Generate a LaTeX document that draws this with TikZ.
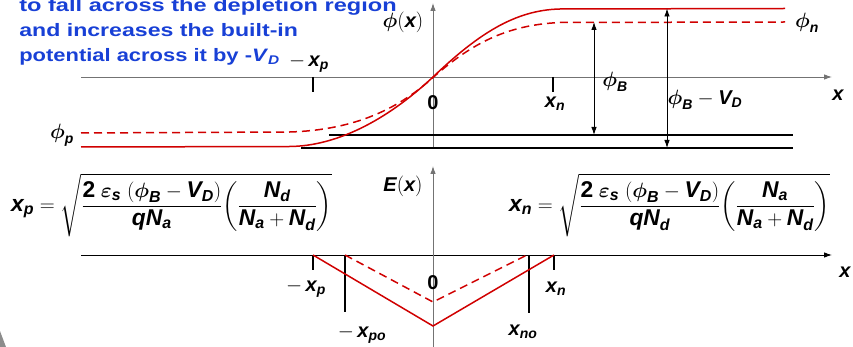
\documentclass[tikz,border=0pt]{standalone}
\usepackage{amsmath}
\usepackage{fontspec}
\setmainfont{Liberation Sans}
\usetikzlibrary{arrows.meta, calc, positioning}

\definecolor{curvered}{RGB}{208,0,0}
\definecolor{noteblue}{RGB}{24,64,214}
\newcommand{\mv}[1]{\text{\bfseries\itshape #1}}
\newcommand{\phib}{\boldsymbol{\phi}}

\begin{document}
\begin{tikzpicture}[x=1pt, y=-1pt, >={Latex[length=8pt,width=5.5pt]}]
    \def\stretch{1.31}
    \tikzstyle{axis} = [draw=black!55, line width=0.9pt, ->]
    \tikzstyle{curve} = [draw=curvered, line width=1.5pt]
    \tikzstyle{eqcurve} = [curve, dash pattern=on 8pt off 5pt]
    \tikzstyle{tick} = [draw, line width=1.2pt]
    \tikzstyle{span} = [draw, line width=0.9pt, <->]
    \tikzstyle{lbl} = [inner sep=0pt, font=\fontsize{20}{24}\selectfont]
    \tikzstyle{formula} = [inner sep=0pt, anchor=west, font=\fontsize{22.8}{27}\selectfont]

    \useasboundingbox (0,0) rectangle (853,347);

    % slide decoration
    \fill[black!45] (0,331) -- (6,347) -- (0,347) -- cycle;

    \node (note) [anchor=north west, inner sep=0pt, align=left, text=noteblue,
        xscale=\stretch, transform shape,
        font=\bfseries\fontsize{18}{25}\selectfont] at (25/\stretch,-1.5)
        {to fall across the depletion region\\\scalebox{0.98}[1]{and increases the built-in}\\\scalebox{0.93}[1]{potential across it by -\textit{V}\textsubscript{\textit{D}}}};

    % potential phi(x)
    \coordinate (phiL) at (81,77);
    \coordinate (phiR) at (832,77);
    \coordinate (phiB) at (433,148);
    \coordinate (phiT) at (433,3);
    \draw [axis] (phiL) -- (phiR);
    \draw [axis] (phiB) -- (phiT);

    \coordinate (xpTop) at (313,77);  \coordinate (xpBot) at (313,92);
    \coordinate (xnTop) at (553,77);  \coordinate (xnBot) at (553,92);
    \draw [tick] (xpTop) -- (xpBot);
    \draw [tick] (xnTop) -- (xnBot);

    \coordinate (lvB1) at (329,135);  \coordinate (lvB2) at (793,135);
    \coordinate (lvD1) at (301,148);  \coordinate (lvD2) at (793,148);
    \draw [line width=2pt] (lvB1) -- (lvB2);
    \draw [line width=1.1pt] (lvD1) -- (lvD2);

    \draw [curve] (81,147) -- (290,146.5) .. controls (335,146) and (385,122) .. (433,77)
        .. controls (478,34) and (515,10) .. (560,9) -- (785,8.5);
    \draw [eqcurve] (81,133) -- (290,132) .. controls (350,130) and (395,112) .. (433,77.5)
        .. controls (470,45) and (505,25) .. (560,22.5) -- (785,22);

    \coordinate (spBt) at (594,22);   \coordinate (spBb) at (594,135);
    \coordinate (spVt) at (667,8.5);  \coordinate (spVb) at (667,148);
    \draw [span] (spBt) -- (spBb);
    \draw [span] (spVt) -- (spVb);

    \node (phix) [lbl] at (403,22) {$\phib(\mv{x})$};
    \node (phin) [lbl] at (807,23) {$\phib_{\mv{n}}$};
    \node (phip) [lbl] at (62,135) {$\phib_{\mv{p}}$};
    \node (phiBl) [lbl] at (615,82) {$\phib_{\mv{B}}$};
    \node (phiBV) [lbl] at (705,100) {$\phib_{\mv{B}}-\mv{V}_{\mv{D}}$};
    \node (xa1) [lbl] at (838,95) {$\mv{x}$};
    \node (zero1) [lbl] at (433,103) {\bfseries 0};
    \node (xn1) [lbl] at (555,104) {$\mv{x}_{\mv{n}}$};
    \node (xp1) [lbl] at (309,63) {$-\,\mv{x}_{\mv{p}}$};

    % field E(x)
    \coordinate (eL) at (81,255);
    \coordinate (eR) at (832,255);
    \coordinate (eB) at (433,347);
    \coordinate (eT) at (433,166);
    \draw [axis, draw=black] (eL) -- (eR);
    \draw [axis] (eB) -- (eT);

    \coordinate (epTop) at (313,255);  \coordinate (epBot) at (313,270);
    \coordinate (enTop) at (554,255);  \coordinate (enBot) at (554,270);
    \draw [tick] (epTop) -- (epBot);
    \draw [tick] (enTop) -- (enBot);
    \coordinate (epoTop) at (345,255);  \coordinate (epoBot) at (345,312);
    \coordinate (enoTop) at (529,255);  \coordinate (enoBot) at (529,313);
    \draw [tick, line width=1.5pt] (epoTop) -- (epoBot);
    \draw [tick, line width=1.5pt] (enoTop) -- (enoBot);

    \draw [curve] (epTop) -- (433,326) -- (enTop);
    \draw [eqcurve] (epoTop) -- (433,302) -- (527,255);

    \node (Ex) [lbl] at (403,186) {$\mv{E}(\mv{x})$};
    \node (xa2) [lbl] at (845,272) {$\mv{x}$};
    \node (zero2) [lbl] at (433,283) {\bfseries 0};
    \node (xp2) [lbl] at (306,288) {$-\,\mv{x}_{\mv{p}}$};
    \node (xpo) [lbl] at (362,334) {$-\,\mv{x}_{\mv{po}}$};
    \node (xn2) [lbl] at (556,289) {$\mv{x}_{\mv{n}}$};
    \node (xno) [lbl] at (523,332) {$\mv{x}_{\mv{no}}$};

    \node (fxp) [formula] at (11,205) {$\mv{x}_{\mv{p}} = \sqrt{\dfrac{\text{\bfseries 2}\;\boldsymbol{\varepsilon}_{\mv{s}}\;(\phib_{\mv{B}}-\mv{V}_{\mv{D}})}{\mv{q}\mv{N}_{\mv{a}}}\!\left(\dfrac{\mv{N}_{\mv{d}}}{\mv{N}_{\mv{a}}+\mv{N}_{\mv{d}}}\right)}$};
    \node (fxn) [formula] at (509,205) {$\mv{x}_{\mv{n}} = \sqrt{\dfrac{\text{\bfseries 2}\;\boldsymbol{\varepsilon}_{\mv{s}}\;(\phib_{\mv{B}}-\mv{V}_{\mv{D}})}{\mv{q}\mv{N}_{\mv{d}}}\!\left(\dfrac{\mv{N}_{\mv{a}}}{\mv{N}_{\mv{a}}+\mv{N}_{\mv{d}}}\right)}$};
\end{tikzpicture}
\end{document}
